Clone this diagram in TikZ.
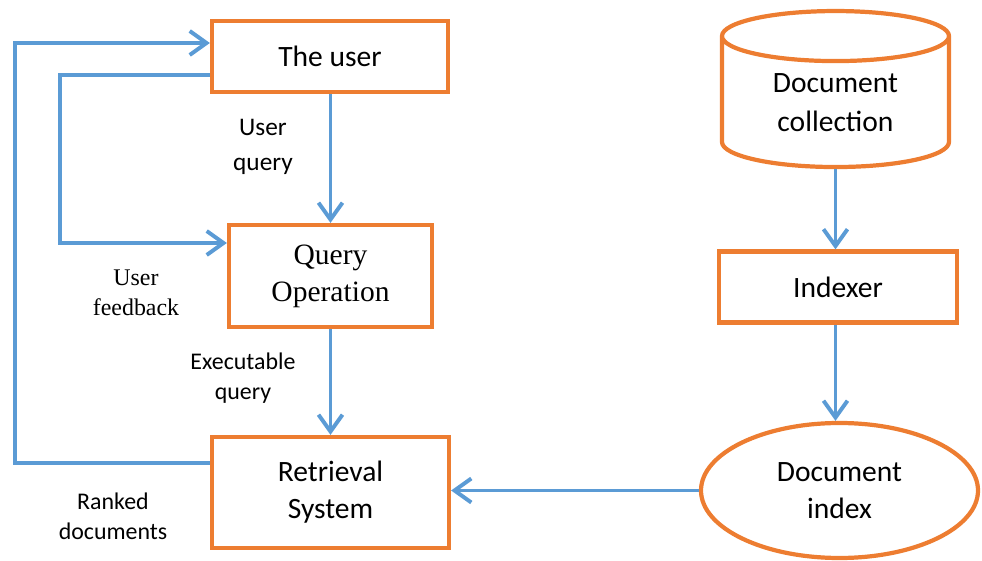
\documentclass[tikz,border=0pt]{standalone}
\usepackage{fontspec}
\setmainfont{Carlito}
\newfontfamily\serifbox{Liberation Serif}
\usetikzlibrary{arrows.meta,shapes.geometric}
\definecolor{boxorange}{HTML}{ED7D31}
\definecolor{flowblue}{HTML}{5B9BD5}

\begin{document}
\begin{tikzpicture}[
        box/.style={draw=boxorange, line width=3pt, inner sep=0pt, align=center,
            font=\fontsize{21}{26.3}\selectfont},
        lbl/.style={align=center, font=\fontsize{17}{21.5}\selectfont},
        flow/.style={draw=flowblue, line width=2.8pt,
            -{Straight Barb[length=0.42cm, width=0.6cm]}}
    ]
    \useasboundingbox (0,0) rectangle (24.55,14.025);

    % search side
    \node[name=user, box, rectangle, minimum width=5.9cm, minimum height=1.775cm] at (8.25, 12.6125) {The user};
    \node[name=query, box, rectangle, minimum width=5.075cm, minimum height=2.55cm, font=\serifbox\fontsize{21}{26.3}\selectfont] at (8.2625, 7.125) {Query\\Operation};
    \node[name=retr, box, rectangle, minimum width=5.925cm, minimum height=2.775cm] at (8.2625, 1.7125) {Retrieval\\System};

    % indexing side
    \node[name=coll, box, cylinder, shape border rotate=90, aspect=0.4, minimum width=5.675cm, minimum height=3.9cm, font=\fontsize{21}{27.5}\selectfont] at (20.8875, 11.46) {Document\\collection};
    \node[name=indexer, box, rectangle, minimum width=5.95cm, minimum height=1.775cm] at (20.95, 6.85) {Indexer};
    \node[name=dindex, box, ellipse, minimum width=6.925cm, minimum height=3.375cm] at (20.9875, 1.7625) {Document\\index};

    % labels
    \node[name=lquery, lbl, font=\fontsize{18}{25}\selectfont] at (6.575, 10.35) {User\\query};
    \node[name=lfeed, lbl, font=\serifbox\fontsize{17}{21.5}\selectfont] at (3.4, 6.7) {User\\feedback};
    \node[name=lexec, lbl] at (6.075, 4.575) {Executable\\query};
    \node[name=lrank, lbl] at (2.825, 1.125) {Ranked\\documents};

    % connectors
    \draw[flow] (user.south -| query.north) -- (query.north);
    \draw[flow] (query.south) -- (query.south |- retr.north);
    \draw[flow] ([yshift=-0.46cm]user.west) -| (1.5, 7.95) -- ([yshift=0.825cm]query.west);
    \draw[flow] ([yshift=0.7375cm]retr.west) -| (0.375, 12.95) -- ([yshift=0.3375cm]user.west);
    \draw[flow] (coll.south) -- (coll.south |- indexer.north);
    \draw[flow] (indexer.south -| coll.south) -- (coll.south |- dindex.north);
    \draw[flow] (dindex.west) -- (dindex.west -| retr.east);
\end{tikzpicture}
\end{document}
